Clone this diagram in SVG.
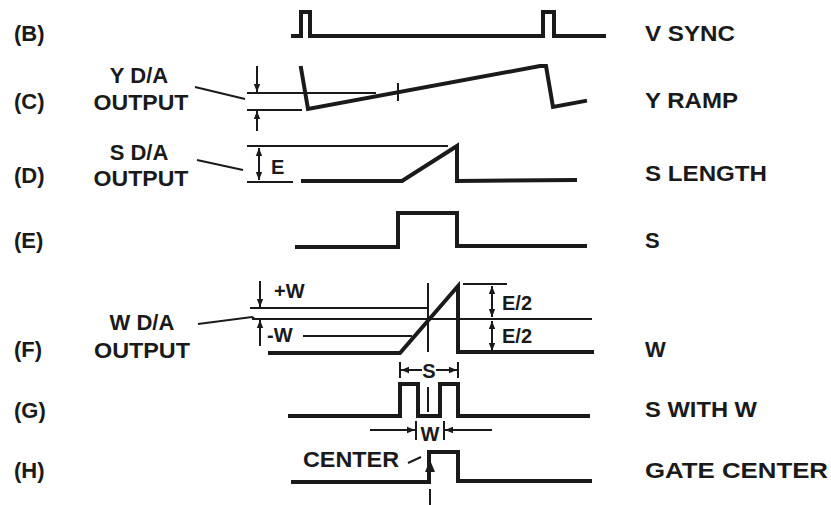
<svg xmlns="http://www.w3.org/2000/svg" width="831" height="505" viewBox="0 0 831 505">
<defs>
<style>
text{font-family:"Liberation Sans",Arial,Helvetica,sans-serif;font-weight:bold;font-size:22px;fill:#1a1a1a}
.sm{font-size:20px}
.wave{fill:none;stroke:#1a1a1a;stroke-width:4;stroke-linejoin:miter;stroke-linecap:square}
.thin{fill:none;stroke:#1a1a1a;stroke-width:2}
.arr{fill:none;stroke:#1a1a1a;stroke-width:2;marker-end:url(#ah)}
.arr2{fill:none;stroke:#1a1a1a;stroke-width:2;marker-start:url(#ahs);marker-end:url(#ah)}
</style>
<marker id="ah" viewBox="0 0 10 10" refX="10" refY="5" markerWidth="4" markerHeight="4" orient="auto" markerUnits="strokeWidth"><path d="M0,1 L10,5 L0,9 Z" fill="#1a1a1a"/></marker>
<marker id="ahs" viewBox="0 0 10 10" refX="0" refY="5" markerWidth="4" markerHeight="4" orient="auto" markerUnits="strokeWidth"><path d="M10,1 L0,5 L10,9 Z" fill="#1a1a1a"/></marker>
</defs>
<rect width="831" height="505" fill="#fff"/>

<g id="row-labels">
<text x="14" y="41">(B)</text>
<text x="14" y="109">(C)</text>
<text x="14" y="183">(D)</text>
<text x="14" y="248">(E)</text>
<text x="14" y="357">(F)</text>
<text x="14" y="418">(G)</text>
<text x="14" y="478">(H)</text>
</g>

<g id="signal-names">
<text x="645" y="41" textLength="90" lengthAdjust="spacingAndGlyphs">V SYNC</text>
<text x="645" y="108" textLength="93" lengthAdjust="spacingAndGlyphs">Y RAMP</text>
<text x="645" y="181" textLength="122" lengthAdjust="spacingAndGlyphs">S LENGTH</text>
<text x="645" y="248">S</text>
<text x="645" y="357">W</text>
<text x="645" y="417" textLength="112" lengthAdjust="spacingAndGlyphs">S WITH W</text>
<text x="645" y="478" textLength="183" lengthAdjust="spacingAndGlyphs">GATE CENTER</text>
</g>

<g id="da-labels" text-anchor="middle">
<text x="139" y="83">Y D/A</text>
<text x="141" y="110" textLength="95" lengthAdjust="spacingAndGlyphs">OUTPUT</text>
<text x="139" y="160">S D/A</text>
<text x="141" y="186" textLength="95" lengthAdjust="spacingAndGlyphs">OUTPUT</text>
<text x="142" y="330">W D/A</text>
<text x="142" y="358" textLength="96" lengthAdjust="spacingAndGlyphs">OUTPUT</text>
</g>

<g id="waveforms">
<polyline id="vsync" class="wave" points="293,36 301,36 301,12 310,12 310,36 543,36 543,12 554,12 554,36 604,36"/>
<polyline id="yramp" class="wave" points="301,68 308,109 540,66 546,66 553,107 585,101"/>
<polyline id="slength" class="wave" points="303,181 402,181 457,146 457,181 575,180"/>
<polyline id="s" class="wave" points="297,247 398,247 398,213 457,213 457,246 585,246"/>
<polyline id="w" class="wave" points="270,353 400,353 458,286 458,352 592,352"/>
<polyline id="swithw" class="wave" points="290,416 400,416 400,384 418,384 418,416 440,416 440,384 458,384 458,416 588,416"/>
<polyline id="gate" class="wave" points="293,482 429,482 429,452 458,452 458,481 590,481"/>
</g>

<g id="connectors">
<!-- Y D/A -->
<line class="thin" x1="195" y1="87" x2="245" y2="99"/>
<line class="thin" x1="247" y1="93" x2="376" y2="93"/>
<line class="thin" x1="247" y1="110" x2="302" y2="110"/>
<line class="arr" x1="257" y1="66" x2="257" y2="92"/>
<line class="arr" x1="257" y1="131" x2="257" y2="111"/>
<line class="thin" x1="398" y1="83" x2="398" y2="101"/>
<!-- S D/A -->
<line class="thin" x1="197" y1="160" x2="243" y2="170"/>
<line class="thin" x1="247" y1="146" x2="448" y2="146"/>
<line class="thin" x1="247" y1="182" x2="293" y2="182"/>
<line class="arr2" x1="259" y1="148" x2="259" y2="180"/>
<text class="sm" x="271" y="174">E</text>
<!-- W D/A -->
<polyline class="thin" points="198,324 252,317 255,319"/>
<line class="thin" x1="252" y1="319" x2="592" y2="319"/>
<line class="thin" x1="250" y1="308" x2="427" y2="308"/>
<line class="thin" x1="303" y1="336" x2="412" y2="336"/>
<line class="arr" x1="260" y1="281" x2="260" y2="307"/>
<line class="arr" x1="260" y1="346" x2="260" y2="320"/>
<text class="sm" x="274" y="298">+W</text>
<text class="sm" x="267" y="342">-W</text>
<line class="thin" x1="428" y1="283" x2="428" y2="352"/>
<line class="thin" x1="463" y1="284" x2="507" y2="284"/>
<line class="arr2" x1="492" y1="286" x2="492" y2="317"/>
<line class="arr2" x1="492" y1="321" x2="492" y2="351"/>
<text class="sm" x="502" y="310">E/2</text>
<text class="sm" x="502" y="343">E/2</text>
<!-- S dimension -->
<line class="thin" x1="400" y1="362" x2="400" y2="378"/>
<line class="thin" x1="458" y1="362" x2="458" y2="378"/>
<line class="arr" x1="422" y1="370" x2="401" y2="370"/>
<line class="arr" x1="436" y1="370" x2="457" y2="370"/>
<text class="sm" x="429" y="378" text-anchor="middle">S</text>
<line class="thin" x1="428" y1="387" x2="428" y2="412"/>
<!-- W dimension -->
<line class="thin" x1="416" y1="421" x2="416" y2="440"/>
<line class="thin" x1="444" y1="421" x2="444" y2="440"/>
<line class="arr" x1="370" y1="430" x2="415" y2="430"/>
<line class="arr" x1="492" y1="430" x2="445" y2="430"/>
<text class="sm" x="430" y="441" text-anchor="middle">W</text>
<!-- Center -->
<text x="303" y="467" textLength="96" lengthAdjust="spacingAndGlyphs">CENTER</text>
<line class="thin" x1="408" y1="463" x2="421" y2="457"/>
<line class="thin" x1="430" y1="489" x2="430" y2="505"/>
<path d="M425,472 L430,460 L435,472 Z" fill="#1a1a1a"/>
</g>
</svg>
